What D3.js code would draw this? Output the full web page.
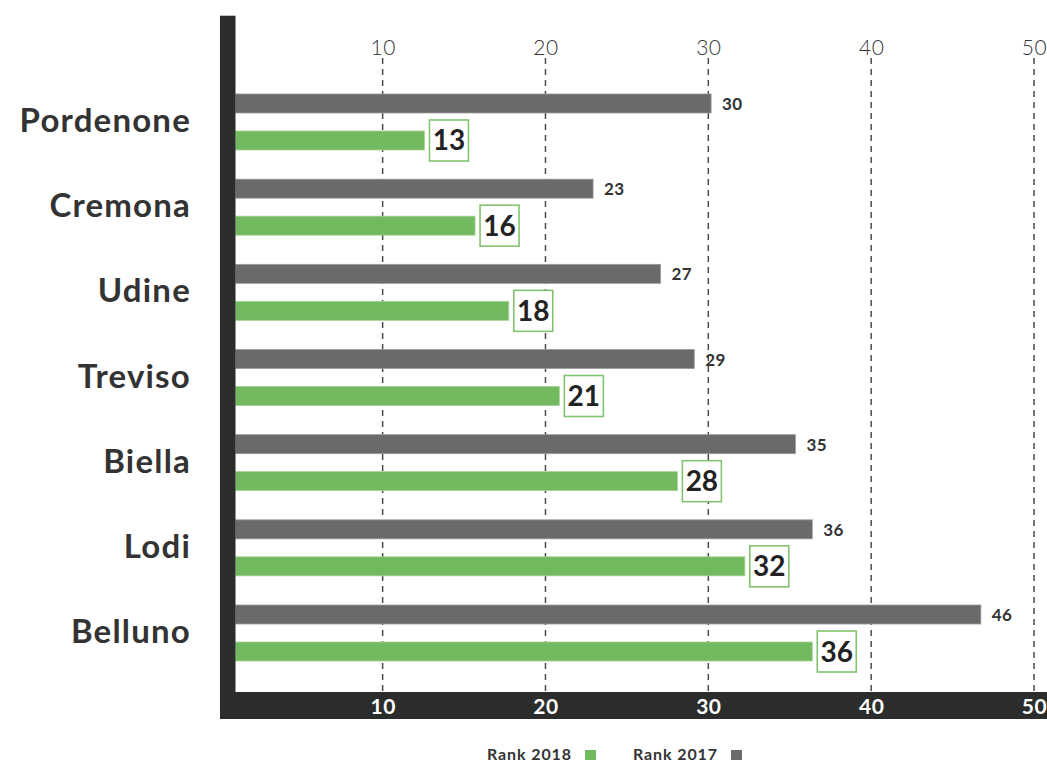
<!DOCTYPE html>
<html>
<head>
<meta charset="utf-8">
<script src="https://cdn.jsdelivr.net/npm/d3@7/dist/d3.min.js"></script>
<style>
  html, body { margin: 0; padding: 0; background: #fff; }
  svg { display: block; font-family: Lato, "Open Sans", sans-serif; }
</style>
</head>
<body>
<svg id="chart" width="1047" height="762"></svg>
<script>
// ---- data ----
const categories = ["Pordenone", "Cremona", "Udine", "Treviso", "Biella", "Lodi", "Belluno"];
const rank2017 = [30, 23, 27, 29, 35, 36, 46];
const rank2018 = [13, 16, 18, 21, 28, 32, 36];
const tickValues = [10, 20, 30, 40, 50];
const seriesNames = ["Rank 2018", "Rank 2017"];

// ---- styles ----
const GREEN = "#72b95f", GRAY = "#6a6a6a", DARK = "#2b2d2c", BOX = "#82c46f";

const svg = d3.select("#chart");

// axis / grid scale
const x = d3.scaleLinear().domain([0, 50]).range([219.8, 1034]);
// bar length scale (fitted to the drawn bars)
const xb = d3.scaleLinear().domain([0, 50]).range([205.3, 1048.3]);
const BAR_X0 = 235.5;
const y = d3.scaleBand().domain(categories).range([79.4, 675.6]).padding(0);
const rowC = c => y(c) + y.bandwidth() / 2;

// grid lines
svg.append("g").selectAll("line").data(tickValues).join("line")
  .attr("x1", d => x(d)).attr("x2", d => x(d))
  .attr("y1", 58).attr("y2", 692)
  .attr("stroke", "#4a4a4a").attr("stroke-width", 1.5)
  .attr("stroke-dasharray", "6,5");

// top tick labels
const topAxis = d3.axisTop(x).tickValues(tickValues).tickSize(0).tickPadding(0);
const gTop = svg.append("g").attr("transform", "translate(0,55)").call(topAxis);
gTop.select(".domain").remove();
gTop.selectAll("text").attr("font-size", 21).attr("font-weight", 300)
  .attr("fill", "#333").attr("font-family", "Lato, sans-serif").attr("dy", 0)
  .attr("letter-spacing", 0.5);

// bars
const rows = categories.map((c, i) => ({ c, v17: rank2017[i], v18: rank2018[i] }));

svg.append("g").selectAll("rect").data(rows).join("rect")
  .attr("x", BAR_X0).attr("y", d => rowC(d.c) - 28)
  .attr("width", d => xb(d.v17) - BAR_X0).attr("height", 19)
  .attr("fill", GRAY).attr("stroke", "#9a9a9a").attr("stroke-width", 0.8);

svg.append("g").selectAll("rect").data(rows).join("rect")
  .attr("x", BAR_X0).attr("y", d => rowC(d.c) + 9)
  .attr("width", d => xb(d.v18) - BAR_X0).attr("height", 19)
  .attr("fill", GREEN).attr("stroke", "#a3d395").attr("stroke-width", 0.8);

// 2017 value labels
svg.append("g").selectAll("text").data(rows).join("text")
  .attr("x", d => xb(d.v17) + 11).attr("y", d => rowC(d.c) - 12)
  .attr("font-size", 17).attr("font-weight", 700).attr("fill", "#333")
  .attr("letter-spacing", 0.4)
  .text(d => d.v17);

// 2018 boxed labels
const lab = svg.append("g").selectAll("g").data(rows).join("g")
  .attr("transform", d => `translate(${xb(d.v18) + 5},${rowC(d.c) + 18.5})`);
lab.append("rect").attr("x", 0).attr("y", -20.5).attr("width", 39).attr("height", 41)
  .attr("fill", "#fff").attr("stroke", BOX).attr("stroke-width", 1.6);
lab.append("text").attr("x", 19.5).attr("y", 10).attr("text-anchor", "middle")
  .attr("font-size", 28).attr("font-weight", 700).attr("fill", "#222")
  .text(d => d.v18);

// category labels
svg.append("g").selectAll("text").data(categories).join("text")
  .attr("x", 191).attr("y", d => rowC(d) + 10)
  .attr("text-anchor", "end").attr("font-size", 33).attr("font-weight", 700)
  .attr("letter-spacing", 1.2)
  .attr("fill", "#333").text(d => d);

// left dark axis bar
svg.append("rect").attr("x", 220).attr("y", 15.7).attr("width", 15.5).attr("height", 703.3).attr("fill", DARK);
// bottom dark band
svg.append("rect").attr("x", 220).attr("y", 692).attr("width", 827).attr("height", 27).attr("fill", DARK);

// bottom tick labels
const botAxis = d3.axisBottom(x).tickValues(tickValues).tickSize(0).tickPadding(0);
const gBot = svg.append("g").attr("transform", "translate(0,714)").call(botAxis);
gBot.select(".domain").remove();
gBot.selectAll("text").attr("font-size", 21).attr("font-weight", 700)
  .attr("fill", "#fff").attr("font-family", "Lato, sans-serif").attr("dy", 0)
  .attr("letter-spacing", 0.5);

// legend
const legendX = [487, 633];
const legendColors = [GREEN, GRAY];
const leg = svg.append("g").selectAll("g").data(seriesNames).join("g");
leg.append("text").attr("x", (d, i) => legendX[i]).attr("y", 760)
  .attr("font-size", 16).attr("font-weight", 700).attr("letter-spacing", 0.9)
  .attr("fill", "#333").text(d => d);
leg.append("rect").attr("x", (d, i) => legendX[i] + 98).attr("y", 750)
  .attr("width", 11).attr("height", 10).attr("fill", (d, i) => legendColors[i]);
</script>
</body>
</html>
